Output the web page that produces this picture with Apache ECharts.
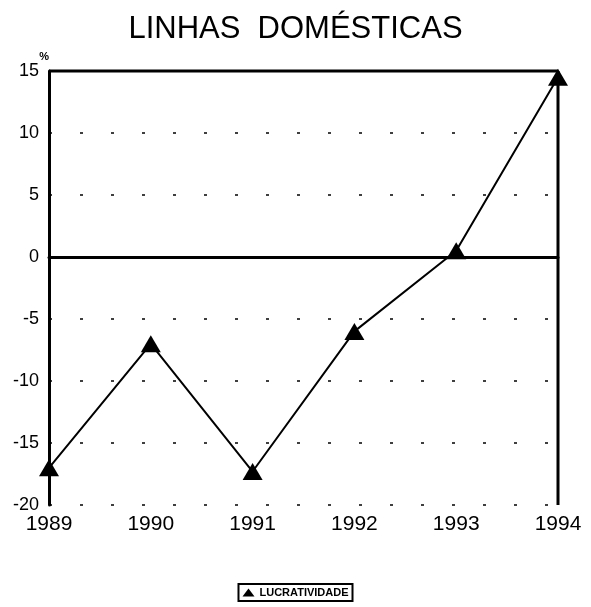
<!DOCTYPE html>
<html>
<head>
<meta charset="utf-8">
<script src="https://cdn.jsdelivr.net/npm/echarts@6/dist/echarts.min.js"></script>
<style>
  html, body { margin: 0; padding: 0; background: #fff; }
</style>
</head>
<body>
<div id="chart" style="width: 591px;height:607px;"></div>
<script>
var years = ['1989', '1990', '1991', '1992', '1993', '1994'];
var lucratividade = [-17, -7, -17.3, -6, 0.5, 14.5];
var yTicks = { min: -20, max: 15, interval: 5 };

var myChart = echarts.init(document.getElementById('chart'));
var option = {
  backgroundColor: '#fff',
  title: {
    text: 'LINHAS  DOMÉSTICAS',
    left: 'center',
    top: 9,
    textStyle: { fontFamily: 'Liberation Sans', fontSize: 31, fontWeight: 'normal', color: '#000' },
  },
  legend: {
    bottom: 6,
    left: 'center',
    data: ['LUCRATIVIDADE'],
    icon: 'triangle',
    itemWidth: 12,
    itemHeight: 8,
    itemGap: 2,
    padding: [3, 4],
    borderColor: '#000',
    borderWidth: 2,
    textStyle: { fontFamily: 'Liberation Sans', fontSize: 11, fontWeight: 'bold', color: '#000' },
  },
  grid: { left: 49, right: 33, top: 71, bottom: 102 },
  xAxis: {
    type: 'category',
    data: years,
    boundaryGap: false,
    axisLine: { lineStyle: { color: '#000', width: 3 } },
    axisTick: { show: false },
    axisLabel: { color: '#000', fontFamily: 'Liberation Sans', fontSize: 21, margin: 9 },
    splitLine: { show: false },
  },
  yAxis: {
    type: 'value',
    name: '%',
    nameGap: 4,
    nameTextStyle: { color: '#000', fontSize: 11, fontWeight: 'bold', align: 'right' },
    min: yTicks.min,
    max: yTicks.max,
    interval: yTicks.interval,
    axisLine: { show: true, lineStyle: { color: '#000', width: 3 } },
    axisTick: { show: false },
    axisLabel: { color: '#000', fontFamily: 'Liberation Sans', fontSize: 18, margin: 10 },
    splitLine: { show: true, lineStyle: { color: '#000', width: 1.5, type: [3, 28] } },
  },
  series: [
    {
      name: 'LUCRATIVIDADE',
      type: 'line',
      data: lucratividade,
      symbol: 'triangle',
      symbolSize: [20, 17],
      itemStyle: { color: '#000' },
      lineStyle: { color: '#000', width: 2 },
      z: 3,
      markLine: {
        silent: true,
        symbol: 'none',
        label: { show: false },
        lineStyle: { color: '#000', width: 3, type: 'solid' },
        data: [{ yAxis: 0 }],
      },
    },
  ],
  graphic: [
    { type: 'line', z: 10, shape: { x1: 49, y1: 71, x2: 558, y2: 71 }, style: { stroke: '#000', lineWidth: 3 } },
    { type: 'line', z: 10, shape: { x1: 558, y1: 71, x2: 558, y2: 505 }, style: { stroke: '#000', lineWidth: 3 } },
  ],
};
myChart.setOption(option, true);
</script>
</body>
</html>
